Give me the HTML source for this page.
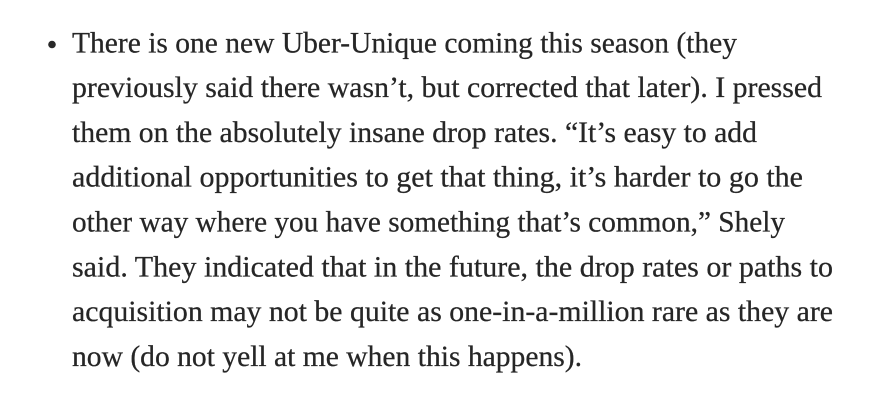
<!DOCTYPE html>
<html>
<head>
<meta charset="utf-8">
<style>
  html, body { margin: 0; padding: 0; background: #ffffff; }
  body { width: 893px; height: 402px; overflow: hidden; }
  svg { display: block; }
  text { font-family: "Liberation Serif", serif; font-size: 29.5px; fill: #262626; stroke: #262626; stroke-width: 0.25px; }
</style>
</head>
<body>
<svg width="893" height="402" viewBox="0 0 893 402" xmlns="http://www.w3.org/2000/svg">
  <rect width="893" height="402" fill="#ffffff"/>
  <circle cx="52" cy="44.5" r="3.8" fill="#292929"/>
  <text x="72" y="52.3" textLength="665" lengthAdjust="spacingAndGlyphs">There is one new Uber-Unique coming this season (they</text>
  <text x="72" y="97.1" textLength="750" lengthAdjust="spacingAndGlyphs">previously said there wasn’t, but corrected that later). I pressed</text>
  <text x="72" y="141.9" textLength="685" lengthAdjust="spacingAndGlyphs">them on the absolutely insane drop rates. “It’s easy to add</text>
  <text x="72" y="186.7" textLength="731" lengthAdjust="spacingAndGlyphs">additional opportunities to get that thing, it’s harder to go the</text>
  <text x="72" y="231.5" textLength="713" lengthAdjust="spacingAndGlyphs">other way where you have something that’s common,” Shely</text>
  <text x="72" y="276.3" textLength="761" lengthAdjust="spacingAndGlyphs">said. They indicated that in the future, the drop rates or paths to</text>
  <text x="72" y="321.1" textLength="761" lengthAdjust="spacingAndGlyphs">acquisition may not be quite as one-in-a-million rare as they are</text>
  <text x="72" y="365.9" textLength="510" lengthAdjust="spacingAndGlyphs">now (do not yell at me when this happens).</text>
</svg>
</body>
</html>
